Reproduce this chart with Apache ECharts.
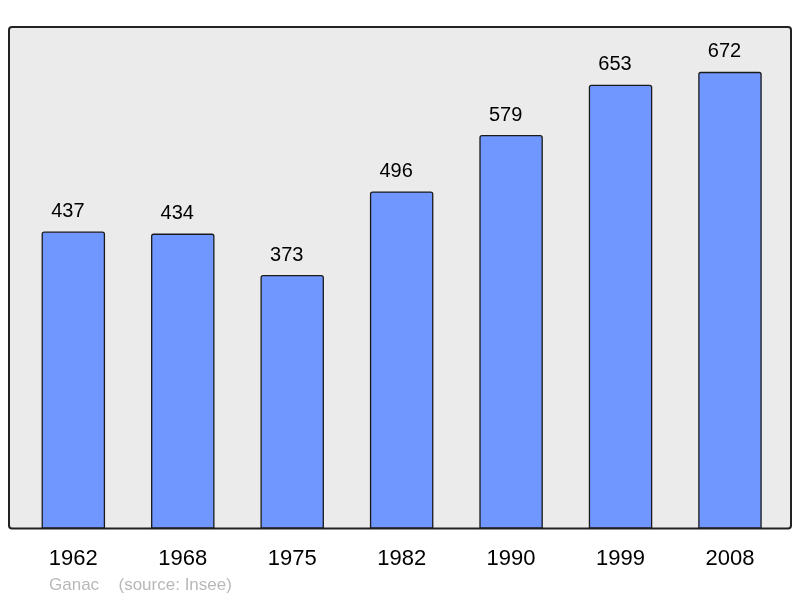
<!DOCTYPE html>
<html>
<head>
<meta charset="utf-8">
<script src="https://cdn.jsdelivr.net/npm/echarts@6/dist/echarts.min.js"></script>
<style>html,body{margin:0;padding:0;background:#fff;}#c{width:800px;height:598px;}</style>
</head>
<body>
<div id="c"></div>
<script>
const years = ['1962','1968','1975','1982','1990','1999','2008'];
const population = [437, 434, 373, 496, 579, 653, 672];
const place = 'Ganac';
const source = '(source: Insee)';

const chart = echarts.init(document.getElementById('c'), null, {renderer: 'canvas'});
chart.setOption({
  animation: false,
  backgroundColor: '#ffffff',
  graphic: [
    {type: 'rect', z: -10, shape: {x: 9, y: 27, width: 782, height: 501.5, r: 3},
     style: {fill: '#ebebeb', stroke: '#222222', lineWidth: 2}},
    {type: 'text', left: 49, top: 576.5, style: {text: place, fill: '#b8b8b8', font: '17px "Liberation Sans", Arial, sans-serif'}},
    {type: 'text', left: 118.5, top: 576.5, style: {text: source, fill: '#b8b8b8', font: '17px "Liberation Sans", Arial, sans-serif'}}
  ],
  grid: {left: 18.6, right: 15.3, top: 27, bottom: 69.5, containLabel: false},
  xAxis: {
    type: 'category', data: years,
    axisLine: {show: false}, axisTick: {show: false},
    axisLabel: {color: '#000', fontSize: 22, margin: 19, fontFamily: '"Liberation Sans", Arial, sans-serif'}
  },
  yAxis: {type: 'value', min: 0, max: 738, show: false, splitLine: {show: false}},
  series: [{
    type: 'bar', data: population, barWidth: '58%',
    itemStyle: {color: '#7096ff', borderColor: '#1a1a1a', borderWidth: 1.3, borderRadius: [2,2,0,0]},
    label: {show: true, position: 'top', distance: 10, offset: [-5.5, 0], color: '#000', fontSize: 20,
            fontFamily: '"Liberation Sans", Arial, sans-serif'}
  }]
});
</script>
</body>
</html>
